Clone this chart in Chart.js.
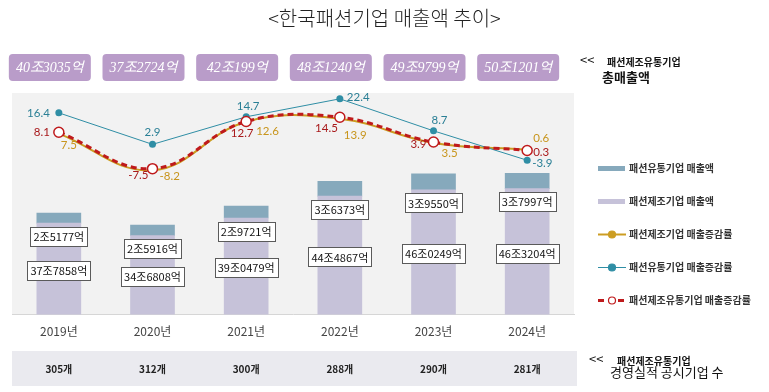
<!DOCTYPE html>
<html>
<head>
<meta charset="utf-8">
<script src="https://cdn.jsdelivr.net/npm/chart.js@4.4.0/dist/chart.umd.min.js"></script>
<style>
html, body { margin: 0; padding: 0; background: #fff; }
#wrap { position: relative; width: 769px; height: 392px; overflow: hidden; font-family: "Noto Sans CJK KR", sans-serif; }
#chart { position: absolute; left: 0; top: 0; }
.t { position: absolute; white-space: nowrap; color: #111; }
</style>
</head>
<body>
<div id="wrap">
  <canvas id="chart" width="769" height="392"></canvas>
  <div class="t" style="left:0;width:769px;top:3px;text-align:center;font-size:20px;font-weight:300;color:#222;">&lt;한국패션기업 매출액 추이&gt;</div>
  <div class="t" style="left:580px;top:50px;font-size:13px;">&lt;&lt;</div>
  <div class="t" style="left:607px;top:54px;font-size:10px;font-weight:bold;">패션제조유통기업</div>
  <div class="t" style="left:602px;top:67px;font-size:13px;font-weight:bold;">총매출액</div>
  <div class="t" style="left:589px;top:349px;font-size:13px;">&lt;&lt;</div>
  <div class="t" style="left:617px;top:353px;font-size:10px;font-weight:bold;">패션제조유통기업</div>
  <div class="t" style="left:610px;top:362px;font-size:13px;">경영실적 공시기업 수</div>
</div>
<script>
// 데이터 (단위: 조원, %)
const years = ['2019년', '2020년', '2021년', '2022년', '2023년', '2024년'];
const mfrSales = [37.7858, 34.6808, 39.0479, 44.4867, 46.0249, 46.3204];
const distSales = [2.5177, 2.5916, 2.9721, 3.6373, 3.9550, 3.7997];
const totalLabels = ['40조3035억', '37조2724억', '42조199억', '48조1240억', '49조9799억', '50조1201억'];
const mfrGrowth = [7.5, -8.2, 12.6, 13.9, 3.5, 0.6];
const distGrowth = [16.4, 2.9, 14.7, 22.4, 8.7, -3.9];
const totalGrowth = [8.1, -7.5, 12.7, 14.5, 3.9, 0.3];
const companyCounts = ['305개', '312개', '300개', '288개', '290개', '281개'];

// 라벨 위치 보정 [dx, dy, align]
const distOffsets = [[-9, 0, 'right'], [0, -12.5, 'center'], [2, -11, 'center'], [7, -1.5, 'left'], [6, -11, 'center'], [5, 3, 'left']];
const totalOffsets = [[-9, 0, 'right'], [-4, 7, 'right'], [-4, 12, 'center'], [-2, 11, 'right'], [-7, 2, 'right'], [6, 2, 'left']];
const mfrOffsets = [[2, 12, 'left'], [7, 6, 'left'], [10, 10, 'left'], [4, 17, 'left'], [8, 10, 'left'], [6, -11, 'left']];

const C_DIST = '#86a9bc';
const C_MFR = '#c6c2d9';
const C_GOLD = '#cc9d22';
const C_BLUE = '#2f8ea5';
const C_RED = '#bf1a1c';

function toJoEok(v) {
    const jo = Math.floor(v);
    const eok = Math.round((v - jo) * 10000);
    return jo + '조' + String(eok).padStart(4, '0') + '억';
}

function drawBox(ctx, text, x, y) {
    ctx.font = '11px "Noto Sans CJK KR"';
    const w = ctx.measureText(text).width + 6;
    const h = 19;
    ctx.fillStyle = '#fff';
    ctx.fillRect(Math.round(x - w / 2) + 0.5, Math.round(y - h / 2) + 0.5, Math.round(w), h);
    ctx.strokeStyle = '#5a5a5a';
    ctx.lineWidth = 1;
    ctx.strokeRect(Math.round(x - w / 2) + 0.5, Math.round(y - h / 2) + 0.5, Math.round(w), h);
    ctx.fillStyle = '#111';
    ctx.textAlign = 'center';
    ctx.textBaseline = 'middle';
    ctx.fillText(text, x, y + 0.5);
}

const backgroundPlugin = {
    id: 'backgroundPlugin',
    beforeDraw(chart) {
        const { ctx, chartArea: a, scales: { x } } = chart;
        ctx.save();
        // 그래프 영역 배경
        ctx.fillStyle = '#f2f2f2';
        ctx.fillRect(a.left, a.top, a.right - a.left, a.bottom - a.top);

        // 상단 총매출액 박스
        totalLabels.forEach((label, i) => {
            const cx = x.getPixelForValue(i) - 9;
            ctx.fillStyle = '#b99cc9';
            ctx.beginPath();
            ctx.roundRect(cx - 41, 54, 82, 27, 4);
            ctx.fill();
            ctx.fillStyle = '#fff';
            ctx.font = 'italic 14px "Liberation Serif", "Noto Sans CJK KR"';
            ctx.textAlign = 'center';
            ctx.textBaseline = 'middle';
            ctx.fillText(label, cx, 68);
        });

        // 하단 공시기업 수
        ctx.fillStyle = '#eaeaef';
        ctx.fillRect(a.left, 351, a.right - a.left + 3, 35);
        ctx.fillStyle = '#222';
        ctx.font = 'bold 10px "Noto Sans CJK KR"';
        ctx.textAlign = 'center';
        ctx.textBaseline = 'middle';
        companyCounts.forEach((c, i) => ctx.fillText(c, x.getPixelForValue(i), 369));
        ctx.restore();
    }
};

const labelPlugin = {
    id: 'labelPlugin',
    afterDatasetsDraw(chart) {
        const { ctx, chartArea: a } = chart;
        ctx.save();
        // 막대 라벨
        const mfrMeta = chart.getDatasetMeta(0);
        const distMeta = chart.getDatasetMeta(1);
        distMeta.data.forEach((bar, i) => drawBox(ctx, toJoEok(distSales[i]), bar.x, bar.base + 13));
        mfrMeta.data.forEach((bar, i) => drawBox(ctx, toJoEok(mfrSales[i]), bar.x, (bar.y + a.bottom) / 2 + 1.5));

        // 증감률 라벨
        const series = [
            { idx: 2, values: mfrGrowth, offsets: mfrOffsets, color: '#c8951c' },
            { idx: 3, values: distGrowth, offsets: distOffsets, color: '#2a7f95' },
            { idx: 4, values: totalGrowth, offsets: totalOffsets, color: '#a8191b' }
        ];
        ctx.font = '11.5px Lato, "DejaVu Sans"';
        ctx.textBaseline = 'middle';
        series.forEach(s => {
            const meta = chart.getDatasetMeta(s.idx);
            ctx.fillStyle = s.color;
            meta.data.forEach((pt, i) => {
                const [dx, dy, align] = s.offsets[i];
                ctx.textAlign = align;
                ctx.fillText(String(s.values[i]), pt.x + dx, pt.y + dy);
            });
        });
        ctx.restore();
    },
    afterDraw(chart) {
        const { ctx, chartArea: a } = chart;
        const lx = a.right + 24;
        const items = [
            { type: 'bar', color: C_DIST, text: '패션유통기업 매출액' },
            { type: 'bar', color: C_MFR, text: '패션제조기업 매출액' },
            { type: 'line', color: C_GOLD, fill: C_GOLD, dash: [], width: 2, text: '패션제조기업 매출증감률' },
            { type: 'line', color: C_BLUE, fill: C_BLUE, dash: [], width: 1, text: '패션유통기업 매출증감률' },
            { type: 'line', color: C_RED, fill: '#fff', dash: [6, 4], width: 3, text: '패션제조유통기업 매출증감률' }
        ];
        ctx.save();
        items.forEach((it, i) => {
            const y = 168.5 + i * 33;
            if (it.type === 'bar') {
                ctx.fillStyle = it.color;
                ctx.fillRect(lx, y - 2.5, 27, 5);
            } else {
                ctx.strokeStyle = it.color;
                ctx.lineWidth = it.width;
                ctx.setLineDash(it.dash);
                ctx.beginPath();
                ctx.moveTo(lx, y);
                ctx.lineTo(lx + 28, y);
                ctx.stroke();
                ctx.setLineDash([]);
                ctx.beginPath();
                ctx.arc(lx + 14, y, 3.5, 0, Math.PI * 2);
                ctx.fillStyle = it.fill;
                ctx.fill();
                ctx.lineWidth = 1.2;
                ctx.stroke();
            }
            ctx.fillStyle = '#333';
            ctx.font = 'bold 10px "Noto Sans CJK KR"';
            ctx.textAlign = 'left';
            ctx.textBaseline = 'middle';
            ctx.fillText(it.text, lx + 31, y);
        });
        ctx.restore();
    }
};

const ctx = document.getElementById('chart').getContext('2d');
const chart = new Chart(ctx, {
    type: 'bar',
    data: {
        labels: years,
        datasets: [
            {
                label: '패션제조기업 매출액',
                data: mfrSales,
                backgroundColor: C_MFR,
                yAxisID: 'y',
                barThickness: 44,
                order: 3
            },
            {
                label: '패션유통기업 매출액',
                data: distSales,
                backgroundColor: C_DIST,
                yAxisID: 'y',
                barThickness: 44,
                order: 4
            },
            {
                type: 'line',
                label: '패션제조기업 매출증감률',
                data: mfrGrowth,
                borderColor: C_GOLD,
                backgroundColor: C_GOLD,
                borderWidth: 2,
                tension: 0.4,
                pointRadius: 2.5,
                pointBorderWidth: 0,
                yAxisID: 'y2',
                order: 2
            },
            {
                type: 'line',
                label: '패션유통기업 매출증감률',
                data: distGrowth,
                borderColor: C_BLUE,
                backgroundColor: C_BLUE,
                borderWidth: 1,
                tension: 0,
                pointRadius: 3.5,
                pointBorderWidth: 0,
                yAxisID: 'y2',
                order: 1
            },
            {
                type: 'line',
                label: '패션제조유통기업 매출증감률',
                data: totalGrowth,
                borderColor: C_RED,
                backgroundColor: '#fff',
                borderWidth: 3,
                borderDash: [6, 4],
                tension: 0.4,
                pointRadius: 5,
                pointBorderWidth: 1.5,
                pointBorderColor: C_RED,
                pointBackgroundColor: '#fff',
                yAxisID: 'y2',
                order: 0
            }
        ]
    },
    options: {
        responsive: false,
        animation: false,
        layout: {
            padding: { left: 12, right: 195, top: 93, bottom: 44 }
        },
        scales: {
            x: {
                stacked: true,
                grid: { display: false, drawTicks: false },
                border: { display: true, color: '#d6d6d6' },
                ticks: { color: '#444', font: { size: 12, family: '"Noto Sans CJK KR"' }, padding: 9.5 }
            },
            y: {
                stacked: true,
                display: false,
                min: 15.1,
                max: 70.05
            },
            y2: {
                display: false,
                min: -70,
                max: 24.9
            }
        },
        plugins: {
            legend: { display: false },
            tooltip: { enabled: false }
        }
    },
    plugins: [backgroundPlugin, labelPlugin]
});
</script>
</body>
</html>
